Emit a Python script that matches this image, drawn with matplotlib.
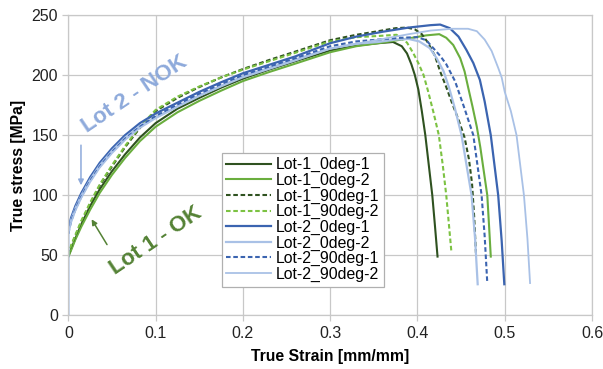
import matplotlib
matplotlib.use('Agg')
import matplotlib.pyplot as plt

plt.rcParams['font.family'] = ['Liberation Sans', 'DejaVu Sans']

# shared strain grid for the hardening part of every curve
eps_grid = [0, 0.003, 0.008, 0.015, 0.025, 0.036, 0.05, 0.065, 0.082, 0.1,
            0.125, 0.15, 0.175, 0.2, 0.23, 0.26, 0.3, 0.33]

labels = ['Lot-1_0deg-1', 'Lot-1_0deg-2', 'Lot-1_90deg-1', 'Lot-1_90deg-2',
          'Lot-2_0deg-1', 'Lot-2_0deg-2', 'Lot-2_90deg-1', 'Lot-2_90deg-2']

# stress at strain 0 (light blue curves start from zero)
start_stress = [49, 49, 50, 50, 72, 0, 68, 0]

# hardening stress [MPa] on eps_grid
l1_0d1_h = [49, 55, 64, 76, 91, 105, 120, 134, 148, 160, 172, 181, 189.5, 197, 204.5, 211.5, 220.5, 224.5]
l1_0d2_h = [49, 54, 63, 74, 88, 102, 117, 131, 145, 157, 169, 178.5, 187, 195, 202.5, 209.5, 219, 224]
l1_90d1_h = [50, 57, 66, 78, 93, 108, 124, 140, 156, 170, 181, 190, 198, 205, 212.5, 219.5, 229, 233.5]
l1_90d2_h = [50, 58, 67, 79, 94, 109, 125, 141, 157, 171, 182, 190.5, 198, 204.5, 211.5, 218.5, 228, 231.5]
l2_0d1_h = [72, 81, 91, 102, 115, 127, 139, 150, 160, 168, 177, 186, 194, 201.5, 208.5, 215.5, 226.5, 232]
l2_0d2_h = [70, 79, 89, 100, 113, 125, 137, 148, 157.5, 165, 174, 183, 191, 199, 206, 213, 222, 226]
l2_90d1_h = [68, 78, 88, 99, 112, 124, 136, 147, 157, 166, 175.5, 184.5, 192.5, 200, 207, 214, 224, 228]
l2_90d2_h = [68, 77, 87, 98, 111, 123, 135, 146, 156, 164, 173.5, 182.5, 190.5, 198, 205, 212, 222, 226]

# peak, necking and fracture part
l1_0d1_tx = [0.355, 0.372, 0.382, 0.388, 0.393, 0.397, 0.401, 0.405, 0.409, 0.413, 0.417, 0.420, 0.423]
l1_0d1_ty = [226.5, 227.5, 224, 218, 209, 200, 188, 170, 150, 125, 100, 75, 49]
l1_0d2_tx = [0.36, 0.39, 0.41, 0.425, 0.433, 0.441, 0.449, 0.454, 0.458, 0.463, 0.468, 0.472, 0.476, 0.480, 0.482, 0.484]
l1_0d2_ty = [227, 230.5, 233, 234, 231, 225, 214, 203, 190, 174, 157, 140, 120, 100, 75, 49]
l1_90d1_tx = [0.355, 0.375, 0.388, 0.397, 0.405, 0.412, 0.42, 0.426, 0.433, 0.44, 0.447, 0.454, 0.459, 0.4625, 0.465, 0.467]
l1_90d1_ty = [236.5, 239, 239.5, 238, 234, 227, 216, 203, 190, 176, 163, 148, 130, 110, 82, 52]
l1_90d2_tx = [0.355, 0.376, 0.388, 0.395, 0.401, 0.407, 0.412, 0.418, 0.4245, 0.429, 0.433, 0.436, 0.439]
l1_90d2_ty = [232.5, 233.5, 227, 218.5, 210, 200, 187, 170, 150, 125, 100, 76, 52]
l2_0d1_tx = [0.36, 0.39, 0.415, 0.426, 0.437, 0.447, 0.456, 0.464, 0.4715, 0.477, 0.484, 0.4925, 0.4965, 0.4995]
l2_0d1_ty = [236, 239.5, 241.5, 242, 239, 232, 221, 210, 196, 178, 150, 100, 62, 26]
l2_0d2_tx = [0.355, 0.375, 0.39, 0.402, 0.414, 0.422, 0.43, 0.436, 0.443, 0.4505, 0.456, 0.462, 0.466, 0.469]
l2_0d2_ty = [227.5, 229.5, 230, 228, 222.5, 214, 203, 190, 172, 150, 126, 100, 64, 26]
l2_90d1_tx = [0.355, 0.38, 0.4, 0.41, 0.418, 0.426, 0.433, 0.443, 0.454, 0.464, 0.4735, 0.477, 0.480]
l2_90d1_ty = [229.5, 231, 231.5, 229, 222.5, 216, 209, 195, 172, 150, 100, 66, 27]
l2_90d2_tx = [0.36, 0.39, 0.415, 0.44, 0.458, 0.468, 0.477, 0.485, 0.4925, 0.4965, 0.5, 0.507, 0.5135, 0.522, 0.526, 0.529]
l2_90d2_ty = [230, 234, 237, 238.5, 238.5, 236.5, 229.5, 220, 206, 198, 186, 170, 150, 100, 64, 27]

hard = [l1_0d1_h, l1_0d2_h, l1_90d1_h, l1_90d2_h, l2_0d1_h, l2_0d2_h, l2_90d1_h, l2_90d2_h]
tail_x = [l1_0d1_tx, l1_0d2_tx, l1_90d1_tx, l1_90d2_tx, l2_0d1_tx, l2_0d2_tx, l2_90d1_tx, l2_90d2_tx]
tail_y = [l1_0d1_ty, l1_0d2_ty, l1_90d1_ty, l1_90d2_ty, l2_0d1_ty, l2_0d2_ty, l2_90d1_ty, l2_90d2_ty]

colors = ['#2f5220', '#6aae3e', '#2f5220', '#7cc242',
          '#3b64b0', '#a9c1e6', '#3b64b0', '#a9c1e6']
styles = ['-', '-', (0, (2.2, 1.3)), (0, (2.2, 1.3)), '-', '-', (0, (2.2, 1.3)), '-']
widths = [1.5, 1.5, 1.5, 1.5, 1.6, 1.6, 1.5, 1.3]

fig = plt.figure(figsize=(6.03, 3.69), dpi=100)
ax = fig.add_axes([0.1133, 0.145, 0.8685, 0.8145])

for i in range(len(labels)):
    xs = [0] + eps_grid + tail_x[i]
    ys = [start_stress[i]] + hard[i] + tail_y[i]
    ax.plot(xs, ys, color=colors[i], linestyle=styles[i], lw=widths[i], label=labels[i],
            solid_joinstyle='round')

ax.set_xlim(0, 0.6)
ax.set_ylim(0, 250)
ax.set_xticks([0, 0.1, 0.2, 0.3, 0.4, 0.5, 0.6])
ax.set_xticklabels(['0', '0.1', '0.2', '0.3', '0.4', '0.5', '0.6'])
ax.set_yticks([0, 50, 100, 150, 200, 250])
ax.grid(True, color='#c8c8c8', lw=0.9)
ax.set_axisbelow(True)
for s in ax.spines.values():
    s.set_color('#c8c8c8')
    s.set_linewidth(0.9)
ax.tick_params(colors='#c8c8c8', labelcolor='#222222', labelsize=11.5, length=4, width=0.9)

ax.set_xlabel('True Strain [mm/mm]', fontsize=11.3, fontweight='bold', labelpad=6)
ax.set_ylabel('True stress [MPa]', fontsize=11.3, fontweight='bold', labelpad=4)

leg = ax.legend(loc='upper left', bbox_to_anchor=(0.2925, 0.542), fontsize=11.4,
                frameon=True, fancybox=False, edgecolor='#b0b0b0', framealpha=1,
                labelspacing=0.03, handlelength=2.8, handletextpad=0.3,
                borderpad=0.3, borderaxespad=0)
leg.get_frame().set_linewidth(0.9)

ax.text(0.0765, 184, 'Lot 2 - NOK', color='#8eaadb', fontsize=16, fontweight='bold',
        rotation=34, ha='center', va='center')
ax.annotate('', xy=(0.0145, 106), xytext=(0.0145, 144),
            arrowprops=dict(arrowstyle='-|>', color='#8eaadb', lw=1.1, mutation_scale=8))

ax.text(0.1, 62, 'Lot 1 - OK', color='#548235', fontsize=16, fontweight='bold',
        rotation=34, ha='center', va='center')
ax.annotate('', xy=(0.025, 82), xytext=(0.046, 57),
            arrowprops=dict(arrowstyle='-|>', color='#548235', lw=1.1, mutation_scale=8))

fig.savefig('out.png', dpi=100)
